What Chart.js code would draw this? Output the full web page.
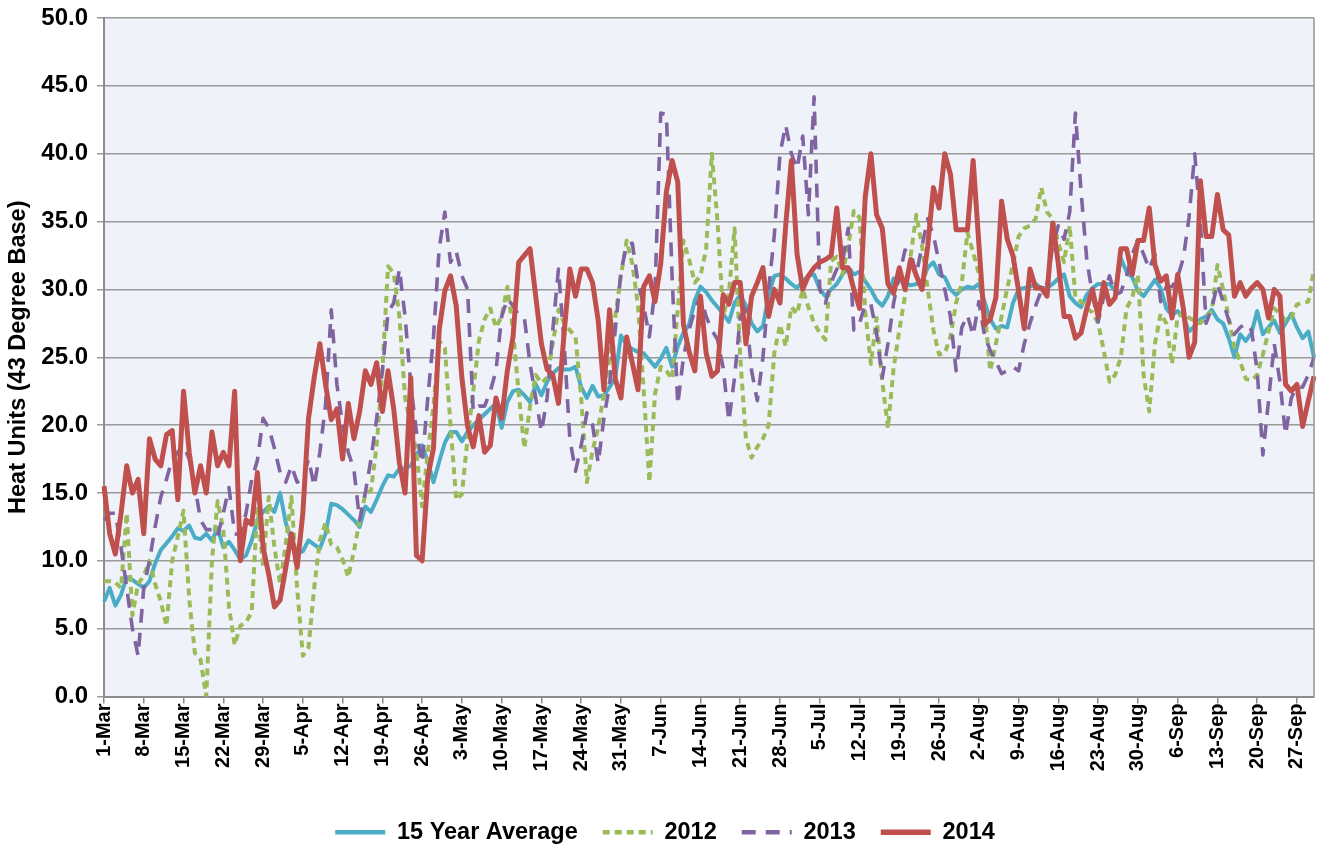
<!DOCTYPE html>
<html><head><meta charset="utf-8">
<script src="https://cdn.jsdelivr.net/npm/chart.js@4.4.1/dist/chart.umd.min.js"></script>
<style>html,body{margin:0;padding:0;background:#fff;}#wrap{width:1318px;height:850px;}</style>
</head><body><div id="wrap"><canvas id="c" width="1318" height="850"></canvas></div>
<script>
// Categories: daily, 1-Mar .. 30-Sep
const monthNames = ['Mar','Apr','May','Jun','Jul','Aug','Sep'];
const monthDays  = [31,30,31,30,31,31,30];
const days = [];
monthNames.forEach((m, k) => { for (let d = 1; d <= monthDays[k]; d++) days.push(d + '-' + m); });

const yTicks = [0,5,10,15,20,25,30,35,40,45,50];

const avg15 = [
 7,8,6.7,7.5,8.8,8.6,8.3,8,8.5,9.8,
 10.8,11.3,11.8,12.4,12.2,12.6,11.7,11.6,12,11.5,
 12.4,11,11.4,10.8,10.1,10.4,11.5,13,13.6,14,
 13.6,15,12.8,11.5,10.5,10.7,11.5,11.2,10.9,12,
 14.2,14.1,13.8,13.4,13,12.5,14,13.6,14.5,15.5,
 16.3,16.2,16.8,16.8,17,17.8,18.5,17.3,15.8,17.3,
 18.7,19.5,19.5,18.8,19.5,20,20.4,20.8,21.2,21.6,
 19.8,21.7,22.5,22.6,22.2,21.7,23,22.2,23.2,23.8,
 24.2,24.1,24.1,24.3,22.8,22,22.9,22.1,22.2,22.8,
 23.5,26.6,25.9,25.6,25.4,25.3,24.8,24.3,24.9,25.7,
 24.3,25.8,26.8,27.4,29.2,30.2,29.8,29.2,28.7,28.2,
 27.6,29,29.6,28.8,27.5,26.9,27.3,29.6,31,31.1,
 30.8,30.4,30.1,30.6,31,31.1,30,29.5,30,30.4,
 31.1,31.6,31.1,31.3,30.6,30,29.2,28.8,29.5,30.8,
 30.7,30.5,30.3,30.4,30.6,31.6,32,31.1,30.9,30,
 29.6,30,30.2,30.1,30.4,29.1,27.8,27.1,27.3,27.2,
 29,30,30.1,30.2,30.4,30.1,30.1,30.4,30.8,31.1,
 29.5,29,28.7,29.6,30.1,30.4,30.4,30.4,29.9,32.3,
 31.3,30.9,29.9,29.5,30.1,30.7,30.1,28.6,28.1,28.4,
 28,26.9,27.3,27.8,28,28.5,27.8,27.5,26.4,25,
 26.7,26.2,26.8,28.4,26.7,27.2,27.7,26.8,27.5,28.2,
 27.2,26.4,26.9,25
];
const y2012 = [
 8.5,8.5,8.4,8,13.5,6,8.3,8.9,10,8.3,
 7,5.2,10,11.8,13.7,7.2,3.2,2.7,0,10,
 14.4,12.3,6.6,3.8,5.2,5.5,6.2,14,9.6,14.7,
 11,8.3,11.3,14.7,8,3,3.6,8,11.5,12.8,
 11.2,11,10.1,8.8,10.7,13,14.9,15.2,18.5,24,
 31.7,31.2,28,22,20,18,14,18,21.4,26.2,
 25.7,20,14.5,14.9,19,22.5,26.2,27.8,28.6,27.2,
 28,30.2,27,22.3,18.3,21.4,23.7,23.1,23.5,26,
 28.5,27.5,27,26.5,22,15.8,18.1,19.8,22.3,25,
 28,31,33.6,31.9,28.8,22.6,15.8,22.3,24.3,24,
 23.4,28.5,33.6,32.2,30.5,31,33,40,35,28,
 29.7,34.5,25,19,17.6,18.4,19,20,25.3,27.4,
 25.8,28.7,28.2,30,28.7,27.5,26.8,26.3,32.1,32.4,
 31.1,33.2,35.8,35.3,28.4,24.5,27.9,23.2,19.8,24.2,
 27,29.5,32.5,35.5,33.2,30,27,25.2,25.3,26.5,
 29,30.5,34.2,32.7,31.2,28.5,24,26,28,30.1,
 31.8,33.9,34.5,34.7,35.2,37.5,35.7,35.2,33.4,32,
 34.7,29.4,29.1,28.6,28.3,27.5,25.5,23.2,23.7,25,
 28.6,29.4,31.1,23.7,21,26,28.2,27.5,24.5,28,
 28.3,27.9,27.7,27.5,28,28.4,31.8,30,27.9,25.7,
 24.7,23.4,23.3,23.7,25.2,26.9,28.6,28.2,27.7,27.9,
 28.9,29,29.1,31.5
];
const y2013 = [
 13,13.5,13.5,11,8,5,3,8,10,12.5,
 14.7,16,17.5,18,18.5,17.5,15.5,13,12.3,12.3,
 11.8,13.5,15.4,12,11.9,13.5,16,17.4,20.5,19.8,
 18.3,16.5,15.8,17,15.8,16,17.5,15.5,18,21.5,
 28.5,23,20,18,16.7,13,15,17.5,20.5,24,
 28.3,29,31.5,28,23,19.5,17.2,22,26.5,33,
 35.7,32,32.8,31,30,21,21.4,21.4,22.5,24,
 28,29.3,28.8,28.1,27.9,24.5,22,19.5,22,27,
 31.5,26,19,16.6,18.5,20.9,20,17.2,20.5,23,
 27,31.3,33.3,33.4,30.5,28.8,26.5,30,43,42.9,
 31,21.5,25,27,28.5,29.5,28,27,26.3,24.2,
 20.3,23.5,28,28.5,24,21.8,25,30,34,40,
 42.1,40,38.9,41.3,35.5,44.2,30,29,30.5,31.5,
 32,34.5,27,27.5,28.9,28.9,26.8,23.5,26,29,
 31,32.9,32.7,31.1,33.2,35.2,34,32,30,28,
 24,27.2,28.1,26.6,29.1,26.6,25.5,24.7,23.8,24,
 24.3,24,26,27.5,28.8,29.9,30.4,33.2,34.7,33.7,
 35.7,43,37.2,32.2,29.6,27.6,29.5,31,29.6,29.8,
 31,32.6,33.6,32.6,31.5,32.6,29.1,30.2,30.2,30.9,
 32.3,35.3,40,35,27.5,28.6,30.4,29.1,27.7,26.7,
 27.2,27.5,27,24,17.8,21.8,26,23.2,19.3,22,
 22.8,22.8,23.7,25
];
const y2014 = [
 15.5,12,10.5,13.5,17,15,16,12,19,17.5,
 17,19.3,19.6,14.5,22.5,18,15,17,15,19.5,
 17,18,17,22.5,10,13,12.7,16.5,11,9,
 6.6,7.1,9.5,12,9.5,13.5,20.5,23.5,26,23,
 20.4,21.2,17.5,21.6,19,21,24,23,24.6,21,
 24,21.2,17.2,15,23.5,10.4,10,16.2,18.3,27,
 29.9,31,28.8,23.5,19.9,18.4,20.7,18,18.5,22,
 20.5,24,26.5,32,32.5,33,29.5,26,24.1,23.7,
 21.6,26.8,31.5,29.5,31.5,31.5,30.5,27.7,22.6,28.5,
 23.4,22,26.5,24.6,22.6,30.2,31,29.1,31.9,37.2,
 39.5,37.9,27.4,25.4,24,29.5,25.3,23.6,24,29.6,
 28.9,30.5,30.5,26,29.5,30.5,31.6,28,30,29,
 34.7,39.5,32.6,30,31,31.6,32,32.2,32.5,36,
 31.6,31.6,30,28.6,36.8,40,35.5,34.5,30.4,29.7,
 31.6,30,32.2,31,30,33.2,37.5,36,40,38.5,
 34.4,34.4,34.4,39.5,33.4,27.4,27.8,29.4,36.5,33.7,
 32.5,29.9,27.1,31.5,30.1,30.1,29.5,34.9,31.9,28,
 28,26.4,26.8,28.6,30,28,30.5,28.9,29.4,33,
 33,31.1,33.6,33.6,36,31.8,30.6,31,27.9,31.1,
 28.6,25,26.1,38,33.9,33.9,37,34.4,34,29.5,
 30.5,29.5,30.1,30.5,30,27.9,30,29.5,23,22.5,
 23,19.9,21.8,23.6
];

const FONT = "'Liberation Sans', Arial, sans-serif";

const plotBg = {
  id: 'plotBg',
  beforeDraw(chart) {
    const {ctx, chartArea: a} = chart;
    ctx.save();
    ctx.fillStyle = '#EFF3F9';
    ctx.fillRect(a.left, a.top, a.right - a.left, a.bottom - a.top);
    ctx.restore();
  },
  afterDraw(chart) {
    const {ctx, chartArea: a} = chart;
    ctx.save();
    ctx.strokeStyle = '#959595';
    ctx.lineWidth = 1.5;
    ctx.beginPath();
    ctx.moveTo(a.right, a.top); ctx.lineTo(a.right, a.bottom);
    ctx.stroke();
    ctx.restore();
  }
};

const legendWidths = [4.5, 4.5, 4.5, 5.5];

new Chart(document.getElementById('c'), {
  type: 'line',
  data: {
    labels: days,
    datasets: [
      {label: '15 Year Average', data: avg15, borderColor: '#4BACC6', backgroundColor: '#4BACC6', borderWidth: 4, order: 4},
      {label: '2012', data: y2012, borderColor: '#9BBB59', backgroundColor: '#9BBB59', borderWidth: 4, borderDash: [7, 5], order: 3},
      {label: '2013', data: y2013, borderColor: '#8064A2', backgroundColor: '#8064A2', borderWidth: 3.6, borderDash: [14, 10], order: 2},
      {label: '2014', data: y2014, borderColor: '#C0504D', backgroundColor: '#C0504D', borderWidth: 5, order: 1}
    ]
  },
  options: {
    responsive: false,
    animation: false,
    devicePixelRatio: 1,
    layout: {padding: {left: 16, right: 4, top: 18, bottom: -4}},
    elements: {
      point: {radius: 0, hoverRadius: 0},
      line: {tension: 0, borderJoinStyle: 'round', borderCapStyle: 'butt', fill: false}
    },
    plugins: {
      tooltip: {enabled: false},
      legend: {
        position: 'bottom',
        labels: {
          sort: (a, b) => a.datasetIndex - b.datasetIndex,
          usePointStyle: true, pointStyle: 'line', pointStyleWidth: 50,
          color: '#000', padding: 25,
          font: {family: FONT, size: 23.5, weight: 'bold'},
          generateLabels(chart) {
            const items = Chart.defaults.plugins.legend.labels.generateLabels(chart);
            items.forEach(it => {
              const ds = chart.data.datasets[it.datasetIndex];
              it.lineDash = ds.borderDash || [];
              it.lineWidth = legendWidths[it.datasetIndex];
              it.strokeStyle = ds.borderColor;
              it.pointStyle = 'line';
              it.lineCap = 'butt';
            });
            return items;
          }
        }
      }
    },
    scales: {
      x: {
        type: 'category',
        afterFit(s) { s.height = 99; s.paddingLeft = 0; s.paddingRight = 0; },
        grid: {drawOnChartArea: false, drawTicks: true, tickLength: 7, color: '#8c8c8c', lineWidth: 1.5},
        border: {display: true, color: '#8c8c8c', width: 2},
        ticks: {
          autoSkip: false, minRotation: 90, maxRotation: 90, padding: 0,
          color: '#000', font: {family: FONT, size: 20, weight: 'bold'},
          callback: function(v, i) { return i % 7 === 0 ? days[i] : null; }
        }
      },
      y: {
        min: 0, max: 50,
        afterFit(s) { s.width = 88; s.paddingTop = 0; s.paddingBottom = 0; },
        afterBuildTicks(s) { s.ticks = yTicks.map(v => ({value: v})); },
        grid: {color: '#9a9a9a', lineWidth: 1.5, tickLength: 7},
        border: {display: true, color: '#8c8c8c', width: 2},
        ticks: {
          padding: 9, color: '#000', font: {family: FONT, size: 24, weight: 'bold'},
          callback: v => Number(v).toFixed(1)
        },
        title: {
          display: true, text: 'Heat Units (43 Degree Base)', color: '#000',
          font: {family: FONT, size: 23.5, weight: 'bold'}, padding: {top: -12, bottom: 0}
        }
      }
    }
  },
  plugins: [plotBg]
});
</script></body></html>
